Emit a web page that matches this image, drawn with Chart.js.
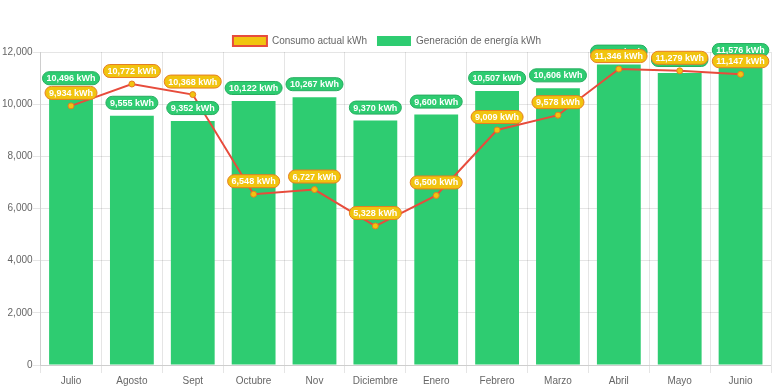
<!DOCTYPE html>
<html>
<head>
<meta charset="utf-8">
<script src="https://cdn.jsdelivr.net/npm/chart.js@4.4.1/dist/chart.umd.min.js"></script>
<style>
  html, body { margin: 0; padding: 0; background: #fff; }
  #wrap { width: 776px; height: 388px; }
</style>
</head>
<body>
<div id="wrap"><canvas id="energyChart"></canvas></div>
<script>
// Datos mensuales
const months      = ['Julio','Agosto','Sept','Octubre','Nov','Diciembre','Enero','Febrero','Marzo','Abril','Mayo','Junio'];
const consumo     = [9934, 10772, 10368, 6548, 6727, 5328, 6500, 9009, 9578, 11346, 11279, 11147];
const generacion  = [10496, 9555, 9352, 10122, 10267, 9370, 9600, 10507, 10606, 11516, 11196, 11576];
const yTicks      = [0, 2000, 4000, 6000, 8000, 10000, 12000];

Chart.defaults.font.family = "'Liberation Sans', Arial, sans-serif";
Chart.defaults.font.size = 10;
Chart.defaults.color = '#666';

// simple value badges (no datalabels plugin available)
const badgePlugin = {
  id: 'badges',
  beforeLayout(chart) {
    // tighten the gap under the legend
    const lg = chart.legend;
    if (lg && !lg._tight) {
      const fit = lg.fit;
      lg.fit = function () { fit.call(this); this.height -= 4; };
      lg._tight = true;
    }
  },
  afterDatasetsDraw(chart) {
    const ctx = chart.ctx;
    const drawOrder = [1, 0]; // bars first, line on top
    ctx.save();
    ctx.font = "bold 9px 'Liberation Sans', Arial, sans-serif";
    ctx.textAlign = 'center';
    ctx.textBaseline = 'middle';
    drawOrder.forEach(di => {
      const ds = chart.data.datasets[di];
      const meta = chart.getDatasetMeta(di);
      meta.data.forEach((el, i) => {
        const txt = ds.data[i].toLocaleString('en-US') + ' kWh';
        const w = ctx.measureText(txt).width + 8;
        const h = 13;
        const cx = el.x;
        const cy = el.y - 13;
        ctx.beginPath();
        ctx.roundRect(cx - w / 2, cy - h / 2, w, h, 6.5);
        ctx.fillStyle = ds.badgeBg;
        ctx.fill();
        ctx.lineWidth = 1;
        ctx.strokeStyle = ds.badgeBorder;
        ctx.stroke();
        ctx.fillStyle = '#fff';
        ctx.fillText(txt, cx, cy + 0.5);
      });
    });
    ctx.restore();
  }
};

new Chart(document.getElementById('energyChart'), {
  type: 'bar',
  data: {
    labels: months,
    datasets: [
      {
        type: 'line',
        label: 'Consumo actual kWh',
        data: consumo,
        borderColor: '#e74c3c',
        backgroundColor: '#f1c40f',
        borderWidth: 2,
        pointRadius: 3,
        pointBackgroundColor: '#f1c40f',
        pointBorderColor: '#e67e22',
        pointBorderWidth: 1,
        tension: 0,
        order: 0,
        badgeBg: '#f1c40f',
        badgeBorder: '#e67e22',
      },
      {
        type: 'bar',
        label: 'Generación de energía kWh',
        data: generacion,
        backgroundColor: '#2ecc71',
        borderColor: '#2ecc71',
        borderWidth: 0,
        order: 1,
        badgeBg: '#2ecc71',
        badgeBorder: '#27ae60',
      },
    ],
  },
  options: {
    responsive: true,
    maintainAspectRatio: false,
    animation: false,
    layout: { padding: { left: 2, right: 4, top: 26, bottom: -1 } },
    plugins: {
      legend: {
        labels: { boxWidth: 34, boxHeight: 10, padding: 10, color: '#666' },
      },
      tooltip: { enabled: false },
    },
    scales: {
      x: {
        grid: { color: 'rgba(0,0,0,0.1)' },
        ticks: { color: '#666', padding: 2 },
      },
      y: {
        min: 0,
        max: 12000,
        afterBuildTicks: axis => { axis.ticks = yTicks.map(v => ({ value: v })); },
        grid: { color: 'rgba(0,0,0,0.1)' },
        ticks: { color: '#666', padding: 0, callback: v => v.toLocaleString('en-US') },
      },
    },
  },
  plugins: [badgePlugin],
});
</script>
</body>
</html>
